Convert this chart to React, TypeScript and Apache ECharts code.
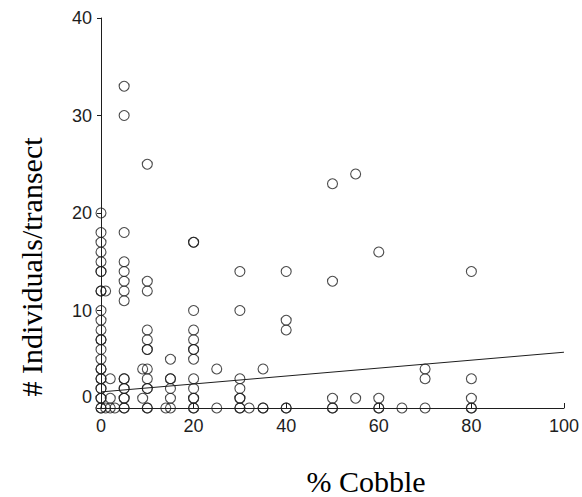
import React, { useEffect, useRef } from "react";
import * as echarts from "echarts";

// % Cobble levels and the individuals/transect values observed at each level
const cobbleLevels = [0, 1, 2, 3, 5, 9, 10, 14, 15, 20, 25, 30, 32, 35, 40, 50, 55, 60, 65, 70, 80];
const individualsAtLevel: number[][] = [
  [0, 0, 1, 1, 2, 2, 3, 3, 4, 4, 5, 6, 7, 7, 8, 9, 10, 12, 12, 14, 14, 15, 16, 17, 18, 20],
  [0, 12],
  [0, 1, 3],
  [0],
  [0, 0, 1, 1, 2, 2, 3, 3, 11, 12, 13, 14, 15, 18, 30, 33],
  [1, 4],
  [0, 0, 2, 2, 3, 4, 6, 6, 7, 8, 12, 13, 25],
  [0],
  [0, 1, 2, 3, 3, 5],
  [0, 0, 1, 1, 2, 3, 5, 6, 6, 7, 8, 10, 17, 17],
  [0, 4],
  [0, 0, 1, 1, 2, 3, 10, 14],
  [0],
  [0, 0, 4],
  [0, 0, 8, 9, 14],
  [0, 0, 1, 13, 23],
  [1, 24],
  [0, 0, 1, 16],
  [0],
  [0, 3, 4],
  [0, 0, 1, 3, 14],
];

// fitted regression line end points
const fitX = [0, 100];
const fitY = [1.65, 5.72];

const xTicks = { min: 0, max: 100, interval: 20 };
const yTicks = { min: 0, max: 40, interval: 10 };

const ink = "#1e1e1e";
const sans = "Liberation Sans, Arial, sans-serif";
const serif = "'Liberation Serif', 'DejaVu Serif', serif";

export default function App() {
  const ref = useRef<HTMLDivElement>(null);
  useEffect(() => {
    document.body.style.margin = "0";
    if (!ref.current) return;
    const chart = echarts.init(ref.current, undefined, { renderer: "svg" });
    const points: number[][] = [];
    cobbleLevels.forEach((x, i) => {
      individualsAtLevel[i].forEach((y) => points.push([x, y]));
    });
    const fit = fitX.map((x, i) => [x, fitY[i]]);
    chart.setOption({
      animation: false,
      backgroundColor: "#ffffff",
      grid: { left: 101, right: 16, top: 18, bottom: 89 },
      xAxis: {
        type: "value",
        ...xTicks,
        axisLine: { show: true, lineStyle: { color: ink, width: 1 } },
        axisTick: { show: true, inside: true, length: 5, lineStyle: { color: ink } },
        axisLabel: { color: ink, fontSize: 18, fontFamily: sans, margin: 9 },
        splitLine: { show: false },
      },
      yAxis: {
        type: "value",
        ...yTicks,
        axisLine: { show: true, lineStyle: { color: ink, width: 1 } },
        axisTick: { show: true, inside: false, length: 4, lineStyle: { color: ink } },
        axisLabel: {
          color: ink,
          fontSize: 18,
          fontFamily: sans,
          margin: 9,
          formatter: (v: number) => (v === 0 ? "{z|0}" : String(v)),
          rich: {
            z: { fontSize: 18, color: ink, fontFamily: sans, padding: [0, 0, 22, 0] },
          },
        },
        splitLine: { show: false },
      },
      series: [
        {
          type: "scatter",
          data: points,
          symbol: "circle",
          symbolSize: 10,
          itemStyle: { color: "rgba(0,0,0,0)", borderColor: ink, borderWidth: 1.1 },
          z: 3,
        },
        {
          type: "line",
          data: fit,
          symbol: "none",
          lineStyle: { color: ink, width: 1 },
          z: 2,
        },
      ],
      graphic: [
        {
          type: "text",
          x: 366,
          y: 481,
          style: {
            text: "% Cobble",
            fontSize: 30,
            fontFamily: serif,
            fill: "#000",
            textAlign: "center",
            textVerticalAlign: "middle",
          },
        },
        {
          type: "text",
          x: 31,
          y: 267,
          rotation: Math.PI / 2,
          style: {
            text: "# Individuals/transect",
            fontSize: 30,
            fontFamily: serif,
            fill: "#000",
            textAlign: "center",
            textVerticalAlign: "middle",
          },
        },
      ],
    });
    return () => chart.dispose();
  }, []);
  return <div ref={ref} style={{ width: 582, height: 497 }} />;
}
